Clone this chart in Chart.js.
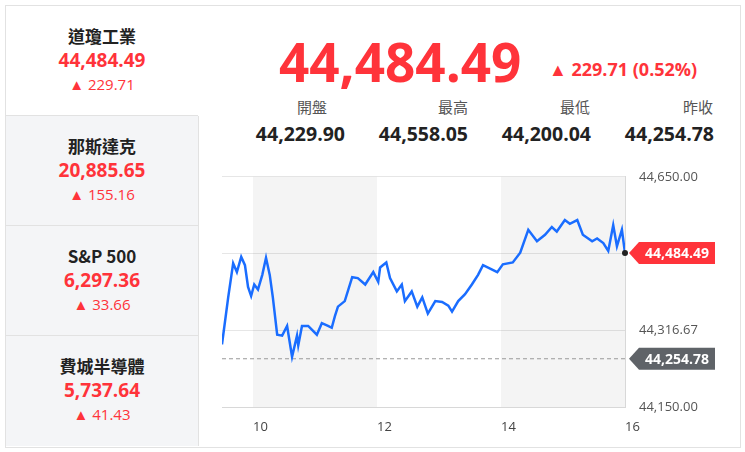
<!DOCTYPE html>
<html>
<head>
<meta charset="utf-8">
<script src="https://cdn.jsdelivr.net/npm/chart.js@4"></script>
<style>
  body { margin: 0; background: #fff; font-family: "Noto Sans CJK TC", "Noto Sans", sans-serif; }
  #wrap { position: absolute; left: 5px; top: 5px; width: 734px; height: 441px; border: 1px solid #e2e2e2; }
  .box { position: absolute; left: 0; width: 192px; height: 109px; border-bottom: 1px solid #e2e2e2; border-right: 1px solid #e2e2e2; text-align: center; background: #f4f5f7; }
  .box.on { background: #fff; border-right: none; }
  .nm { margin-top: 18px; font-size: 17px; color: #222; font-weight: bold; line-height: 24px; }
  .val { font-size: 19px; color: #ff333a; font-weight: bold; line-height: 25px; font-family: "Open Sans", sans-serif; }
  .chg { font-size: 15px; color: #ff333a; line-height: 22px; font-family: "Open Sans", sans-serif; }
  #big { position: absolute; left: 279px; top: 25px; font-size: 53px; font-weight: bold; color: #ff333a; font-family: "Open Sans", sans-serif; }
  #bigchg { position: absolute; left: 549px; top: 57px; font-size: 18px; font-weight: bold; color: #ff333a; font-family: "Open Sans", sans-serif; }
  .lab { position: absolute; top: 96px; font-size: 15px; color: #555; text-align: right; width: 120px; }
  .num { position: absolute; top: 120px; font-size: 19.5px; font-weight: bold; color: #222; text-align: right; width: 130px; font-family: "Open Sans", sans-serif; }
  #cv { position: absolute; left: 215px; top: 155px; }
</style>
</head>
<body>
<div id="wrap">
  <div class="box on" style="top:0"><div class="nm">道瓊工業</div><div class="val">44,484.49</div><div class="chg">▲ 229.71</div></div>
  <div class="box" style="top:110px"><div class="nm">那斯達克</div><div class="val">20,885.65</div><div class="chg">▲ 155.16</div></div>
  <div class="box" style="top:220px"><div class="nm">S&amp;P 500</div><div class="val">6,297.36</div><div class="chg">▲ 33.66</div></div>
  <div class="box" style="top:330px;border-bottom:none;height:110px"><div class="nm">費城半導體</div><div class="val">5,737.64</div><div class="chg">▲ 41.43</div></div>
</div>
<div id="big">44,484.49</div>
<div id="bigchg">▲ 229.71 (0.52%)</div>
<div class="lab" style="left:207px">開盤</div>
<div class="lab" style="left:348px">最高</div>
<div class="lab" style="left:470px">最低</div>
<div class="lab" style="left:593px">昨收</div>
<div class="num" style="left:215px">44,229.90</div>
<div class="num" style="left:338px">44,558.05</div>
<div class="num" style="left:461px">44,200.04</div>
<div class="num" style="left:584px">44,254.78</div>
<canvas id="cv" width="530" height="285"></canvas>
<script>
// hours since midnight (9.5 = open)
var times = [9.50, 9.60, 9.68, 9.74, 9.81, 9.87, 9.92, 9.97, 10.02, 10.08, 10.15, 10.21, 10.27, 10.32, 10.39, 10.47, 10.55, 10.63, 10.71, 10.73, 10.79, 10.89, 11.03, 11.11, 11.21, 11.27, 11.32, 11.37, 11.48, 11.60, 11.69, 11.81, 11.94, 12.02, 12.05, 12.15, 12.21, 12.32, 12.40, 12.45, 12.56, 12.65, 12.73, 12.82, 12.94, 13.05, 13.15, 13.21, 13.31, 13.42, 13.53, 13.63, 13.71, 13.94, 14.03, 14.19, 14.31, 14.44, 14.58, 14.71, 14.82, 14.90, 15.03, 15.11, 15.23, 15.32, 15.47, 15.55, 15.65, 15.73, 15.81, 15.87, 15.95, 16.00];
var prices = [44286, 44388, 44462, 44443, 44476, 44458, 44411, 44391, 44416, 44405, 44437, 44474, 44437, 44388, 44307, 44305, 44326, 44259, 44305, 44284, 44326, 44326, 44307, 44332, 44326, 44322, 44347, 44368, 44380, 44432, 44430, 44416, 44443, 44422, 44453, 44464, 44430, 44401, 44416, 44380, 44401, 44368, 44388, 44353, 44380, 44378, 44370, 44357, 44380, 44395, 44416, 44437, 44458, 44443, 44460, 44464, 44485, 44535, 44510, 44524, 44541, 44531, 44556, 44548, 44556, 44524, 44510, 44516, 44506, 44489, 44545, 44499, 44535, 44484.49];
var hourTicks = [10, 12, 14, 16];
var shadedHours = [[10, 12], [14, 16]];
var yTicks = [44150, 44316.67, 44483.33, 44650];
var prevClose = 44254.78;
var lastPrice = 44484.49;

var points = times.map(function (t, i) { return { x: t, y: prices[i] }; });

function tag(ctx, x, y, text, color) {
  ctx.save();
  ctx.font = 'bold 14px "Open Sans", sans-serif';
  var w = ctx.measureText(text).width + 12;
  ctx.fillStyle = color;
  ctx.beginPath();
  ctx.moveTo(x, y);
  ctx.lineTo(x + 10, y - 11);
  ctx.lineTo(x + 10 + w, y - 11);
  ctx.lineTo(x + 10 + w, y + 11);
  ctx.lineTo(x + 10, y + 11);
  ctx.closePath();
  ctx.fill();
  ctx.fillStyle = '#fff';
  ctx.textBaseline = 'middle';
  ctx.fillText(text, x + 16, y + 1);
  ctx.restore();
}

var decor = {
  id: 'decor',
  beforeDatasetsDraw: function (chart) {
    var ctx = chart.ctx, a = chart.chartArea, xs = chart.scales.x, ys = chart.scales.y;
    ctx.save();
    ctx.fillStyle = 'rgba(0,0,0,0.045)';
    shadedHours.forEach(function (b) {
      var x1 = xs.getPixelForValue(b[0]), x2 = xs.getPixelForValue(b[1]);
      ctx.fillRect(x1, a.top, x2 - x1, a.bottom - a.top);
    });
    var py = ys.getPixelForValue(prevClose);
    ctx.strokeStyle = '#999';
    ctx.setLineDash([4, 3]);
    ctx.beginPath();
    ctx.moveTo(a.left, py);
    ctx.lineTo(a.right, py);
    ctx.stroke();
    ctx.restore();
  },
  afterDraw: function (chart) {
    var ctx = chart.ctx, a = chart.chartArea, ys = chart.scales.y;
    var ly = ys.getPixelForValue(lastPrice);
    ctx.save();
    ctx.fillStyle = '#222';
    ctx.beginPath();
    ctx.arc(a.right, ly, 3, 0, Math.PI * 2);
    ctx.fill();
    ctx.restore();
    tag(ctx, a.right + 4, ly, '44,484.49', '#ff333a');
    tag(ctx, a.right + 4, ys.getPixelForValue(prevClose), '44,254.78', '#5f6368');
  }
};

new Chart(document.getElementById('cv'), {
  type: 'line',
  data: { datasets: [{ data: points, borderColor: '#1a6dff', borderWidth: 2.5, pointRadius: 0, tension: 0, fill: false }] },
  options: {
    responsive: false,
    animation: false,
    layout: { padding: { left: 7, top: 5, bottom: 3, right: 0 } },
    plugins: { legend: { display: false }, tooltip: { enabled: false } },
    scales: {
      x: {
        type: 'linear', min: 9.5, max: 16,
        afterBuildTicks: function (s) { s.ticks = hourTicks.map(function (v) { return { value: v }; }); },
        afterFit: function (s) { s.height = 30; },
        grid: { display: false },
        border: { color: '#d8d8d8' },
        ticks: { align: 'start', color: '#444', font: { size: 13, family: 'Open Sans' }, padding: 4, maxRotation: 0 }
      },
      y: {
        position: 'right', min: 44150, max: 44650,
        afterBuildTicks: function (s) { s.ticks = yTicks.map(function (v) { return { value: v }; }); },
        afterFit: function (s) { s.width = 120; },
        grid: { color: '#e6e6e6', drawTicks: false },
        border: { color: '#d8d8d8' },
        ticks: {
          color: '#555', padding: 14, font: { size: 13, family: 'Open Sans' },
          callback: function (v, i) { return i === 2 ? '' : v.toLocaleString('en-US', { minimumFractionDigits: 2, maximumFractionDigits: 2 }); }
        }
      }
    }
  },
  plugins: [decor]
});
</script>
</body>
</html>
